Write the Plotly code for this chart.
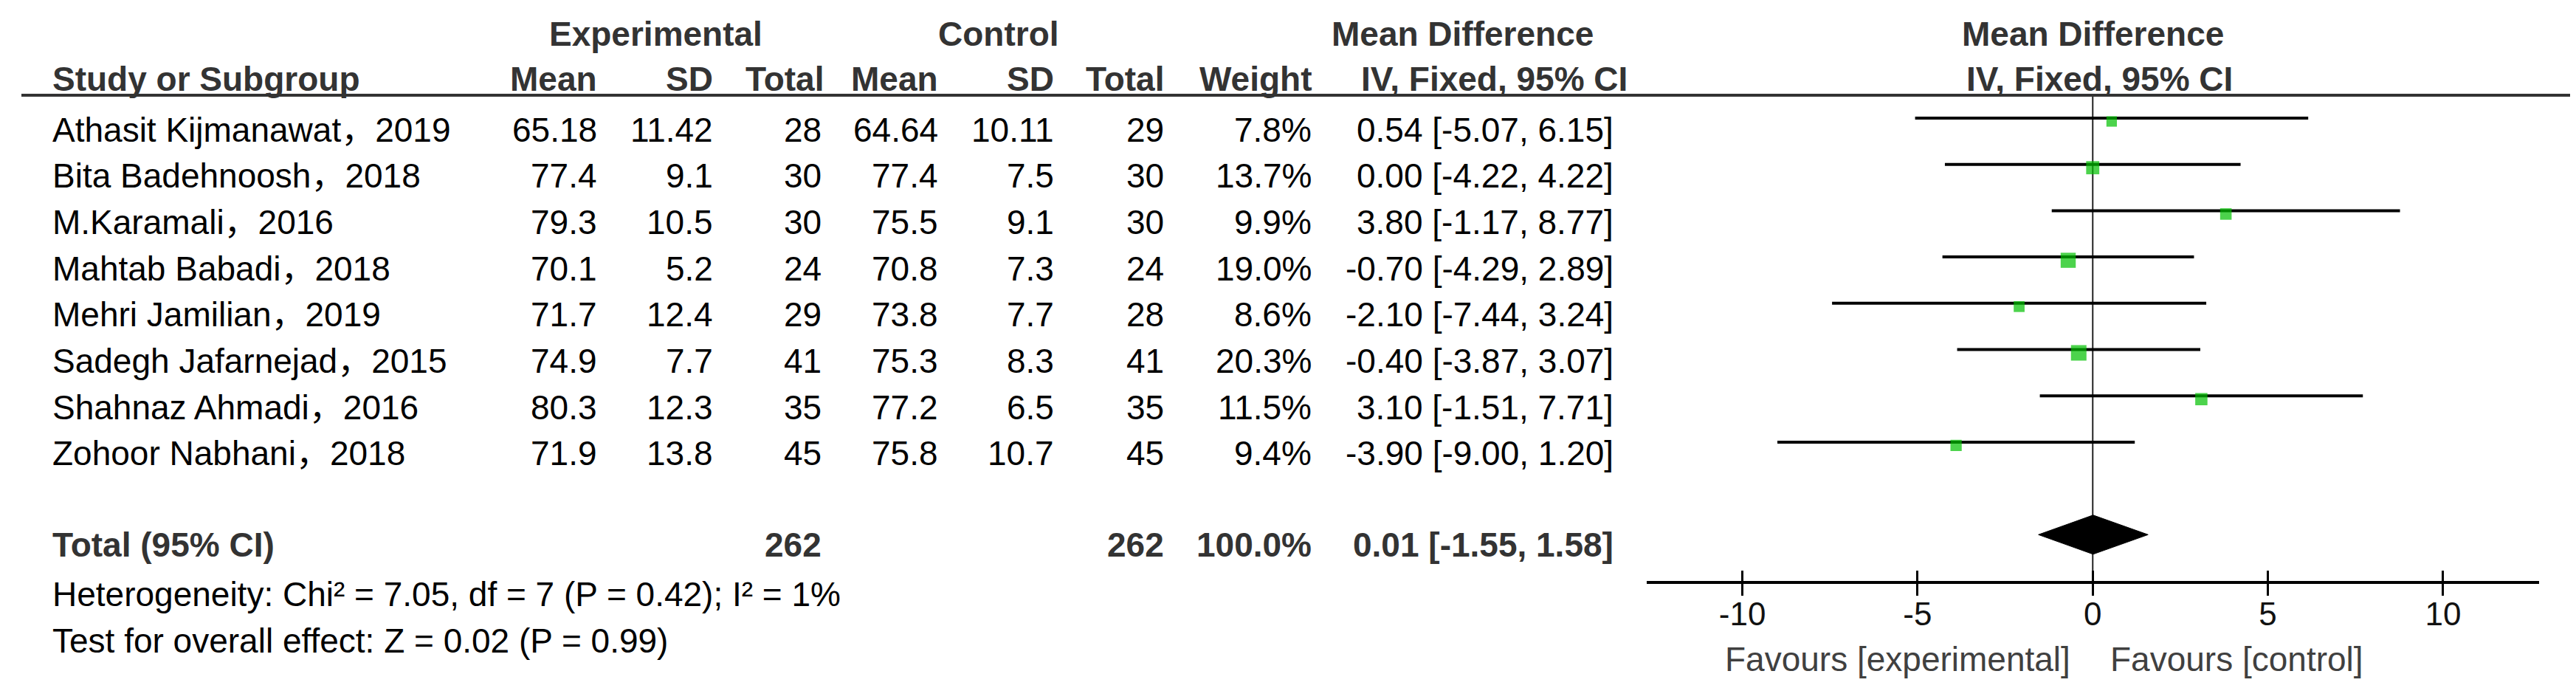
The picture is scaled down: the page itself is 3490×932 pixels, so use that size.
import plotly.graph_objects as go

# ---------------- data ----------------
studies = ["Athasit Kijmanawat，2019", "Bita Badehnoosh，2018", "M.Karamali，2016",
           "Mahtab Babadi，2018", "Mehri Jamilian，2019", "Sadegh Jafarnejad，2015",
           "Shahnaz Ahmadi，2016", "Zohoor Nabhani，2018"]
exp_mean = [65.18, 77.4, 79.3, 70.1, 71.7, 74.9, 80.3, 71.9]
exp_sd = [11.42, 9.1, 10.5, 5.2, 12.4, 7.7, 12.3, 13.8]
exp_n = [28, 30, 30, 24, 29, 41, 35, 45]
ctrl_mean = [64.64, 77.4, 75.5, 70.8, 73.8, 75.3, 77.2, 75.8]
ctrl_sd = [10.11, 7.5, 9.1, 7.3, 7.7, 8.3, 6.5, 10.7]
ctrl_n = [29, 30, 30, 24, 28, 41, 35, 45]
weight = [7.8, 13.7, 9.9, 19.0, 8.6, 20.3, 11.5, 9.4]
md = [0.54, 0.00, 3.80, -0.70, -2.10, -0.40, 3.10, -3.90]
ci_lo = [-5.07, -4.22, -1.17, -4.29, -7.44, -3.87, -1.51, -9.00]
ci_hi = [6.15, 4.22, 8.77, 2.89, 3.24, 3.07, 7.71, 1.20]

total_label = "Total (95% CI)"
total_exp_n = 262
total_ctrl_n = 262
total_weight = 100.0
total_md = 0.01
total_lo = -1.55
total_hi = 1.58
heterogeneity = "Heterogeneity: Chi² = 7.05, df = 7 (P = 0.42); I² = 1%"
overall = "Test for overall effect: Z = 0.02 (P = 0.99)"

tick_vals = [-10, -5, 0, 5, 10]
tick_text = ["-10", "-5", "0", "5", "10"]
favours_left = "Favours [experimental]"
favours_right = "Favours [control]"

# ---------------- layout constants (pixels) ----------------
W, H = 3490, 932
FONT = "Liberation Sans, Noto Sans CJK SC, Arial, Helvetica, sans-serif"
FS = 46
HEAD_COLOR = "#333333"
BODY_COLOR = "#000000"
GREEN = "#00c000"

LINE_Y0 = 152.0      # y of first study's CI line
ROW_H = 62.7
TEXT_DY = 15.5       # text centre sits below the CI line
TOTAL_TEXT_DY = 14
NOTE_DY = 18
MARKER_DY = 4.5
HEAD1_Y = 38
HEAD2_Y = 99
RULE_Y = 121
AXIS_Y = 781
FAV_Y = 885

STUDY_X = 61
COLS = dict(exp_mean=803, exp_sd=960, exp_n=1107, ctrl_mean=1265, ctrl_sd=1422,
            ctrl_n=1571, weight=1771, ci=2180)

X_PX_LEFT, X_PX_RIGHT = 2223, 3432
X_RANGE = [-12.73, 12.74]


def row_y(i):
    return LINE_Y0 + ROW_H * i


fig = go.Figure()
ann = []


def txt(x, y, s, anchor, bold=False, color=BODY_COLOR, size=FS, xref="x2"):
    ann.append(dict(x=x, y=y, xref=xref, yref="y", text=f"<b>{s}</b>" if bold else s,
                    showarrow=False, xanchor=anchor, yanchor="middle",
                    font=dict(family=FONT, size=size, color=color)))


# headers
txt(880, HEAD1_Y, "Experimental", "center", True, HEAD_COLOR)
txt(1345, HEAD1_Y, "Control", "center", True, HEAD_COLOR)
txt(1973, HEAD1_Y, "Mean Difference", "center", True, HEAD_COLOR)
txt(0, HEAD1_Y, "Mean Difference", "center", True, HEAD_COLOR, xref="x")
txt(STUDY_X, HEAD2_Y, "Study or Subgroup", "left", True, HEAD_COLOR)
txt(COLS["exp_mean"], HEAD2_Y, "Mean", "right", True, HEAD_COLOR)
txt(COLS["exp_sd"], HEAD2_Y, "SD", "right", True, HEAD_COLOR)
txt(COLS["exp_n"] + 3, HEAD2_Y, "Total", "right", True, HEAD_COLOR)
txt(COLS["ctrl_mean"], HEAD2_Y, "Mean", "right", True, HEAD_COLOR)
txt(COLS["ctrl_sd"], HEAD2_Y, "SD", "right", True, HEAD_COLOR)
txt(COLS["ctrl_n"], HEAD2_Y, "Total", "right", True, HEAD_COLOR)
txt(COLS["weight"], HEAD2_Y, "Weight", "right", True, HEAD_COLOR)
txt(2016, HEAD2_Y, "IV, Fixed, 95% CI", "center", True, HEAD_COLOR)
txt(0.2, HEAD2_Y, "IV, Fixed, 95% CI", "center", True, HEAD_COLOR, xref="x")

# study rows
for i, name in enumerate(studies):
    y = row_y(i) + TEXT_DY
    txt(STUDY_X, y, name, "left")
    txt(COLS["exp_mean"], y, f"{exp_mean[i]:g}", "right")
    txt(COLS["exp_sd"], y, f"{exp_sd[i]:g}", "right")
    txt(COLS["exp_n"], y, str(exp_n[i]), "right")
    txt(COLS["ctrl_mean"], y, f"{ctrl_mean[i]:g}", "right")
    txt(COLS["ctrl_sd"], y, f"{ctrl_sd[i]:g}", "right")
    txt(COLS["ctrl_n"], y, str(ctrl_n[i]), "right")
    txt(COLS["weight"], y, f"{weight[i]:.1f}%", "right")
    txt(COLS["ci"], y, f"{md[i]:.2f} [{ci_lo[i]:.2f}, {ci_hi[i]:.2f}]", "right")

# total row
TI = len(studies) + 1
ty = row_y(TI) + TOTAL_TEXT_DY
txt(STUDY_X, ty, total_label, "left", True, HEAD_COLOR)
txt(COLS["exp_n"], ty, str(total_exp_n), "right", True, HEAD_COLOR)
txt(COLS["ctrl_n"], ty, str(total_ctrl_n), "right", True, HEAD_COLOR)
txt(COLS["weight"], ty, f"{total_weight:.1f}%", "right", True, HEAD_COLOR)
txt(COLS["ci"], ty, f"{total_md:.2f} [{total_lo:.2f}, {total_hi:.2f}]", "right", True, HEAD_COLOR)
txt(STUDY_X, row_y(TI + 1) + NOTE_DY, heterogeneity, "left")
txt(STUDY_X, row_y(TI + 2) + NOTE_DY, overall, "left")

# favours labels (positioned on the forest axis)
txt(-0.6, FAV_Y, favours_left, "right", color="#404040", xref="x")
txt(0.45, FAV_Y, favours_right, "left", color="#404040", xref="x")

# header rule (table pixel axis)
fig.add_trace(go.Scatter(x=[21, 3475], y=[RULE_Y, RULE_Y], mode="lines",
                         line=dict(color="#333333", width=4), xaxis="x2", yaxis="y",
                         hoverinfo="skip", showlegend=False))

# zero line
fig.add_trace(go.Scatter(x=[0, 0], y=[RULE_Y, AXIS_Y], mode="lines",
                         line=dict(color="#222222", width=2), xaxis="x", yaxis="y",
                         hoverinfo="skip", showlegend=False))

# CI lines
lx, ly = [], []
for i in range(len(studies)):
    lx += [ci_lo[i], ci_hi[i], None]
    ly += [row_y(i), row_y(i), None]
fig.add_trace(go.Scatter(x=lx, y=ly, mode="lines", line=dict(color="#000000", width=4),
                         xaxis="x", yaxis="y", hoverinfo="skip", showlegend=False))

# study markers (size scales with weight)
sizes = [3 + 4 * w ** 0.5 for w in weight]
fig.add_trace(go.Scatter(x=md, y=[row_y(i) + MARKER_DY for i in range(len(studies))],
                         mode="markers",
                         marker=dict(symbol="square", size=sizes, color=GREEN, line=dict(width=0)),
                         xaxis="x", yaxis="y", showlegend=False))

# diamond for pooled estimate
dy = row_y(TI)
DH = 26.5
fig.add_trace(go.Scatter(x=[total_lo, total_md, total_hi, total_md, total_lo],
                         y=[dy, dy - DH, dy, dy + DH, dy], mode="lines", fill="toself",
                         fillcolor="#000000", line=dict(color="#000000", width=1),
                         xaxis="x", yaxis="y", hoverinfo="skip", showlegend=False))

# dummy trace for tick-overlay axis
fig.add_trace(go.Scatter(x=[0], y=[AXIS_Y], mode="markers", marker=dict(opacity=0),
                         xaxis="x3", yaxis="y", hoverinfo="skip", showlegend=False))

pos = 1 - AXIS_Y / H
dom = [X_PX_LEFT / W, X_PX_RIGHT / W]
fig.update_layout(
    width=W, height=H, autosize=False,
    margin=dict(l=0, r=0, t=0, b=0),
    paper_bgcolor="white", plot_bgcolor="rgba(0,0,0,0)",
    showlegend=False,
    font=dict(family=FONT, size=FS, color=BODY_COLOR),
    xaxis=dict(domain=dom, range=X_RANGE, anchor="free", position=pos,
               showline=True, linecolor="#000000", linewidth=3.5,
               ticks="outside", ticklen=16, tickwidth=2.5, tickcolor="#000000",
               tickvals=tick_vals, ticktext=tick_text, ticklabelstandoff=-13,
               tickfont=dict(family=FONT, size=44, color="#111111"),
               showgrid=False, zeroline=False, fixedrange=True),
    xaxis3=dict(overlaying="x", range=X_RANGE, anchor="free", position=pos,
                showline=False, ticks="inside", ticklen=16, tickwidth=2.5,
                tickcolor="#000000", tickvals=tick_vals, showticklabels=False,
                showgrid=False, zeroline=False, fixedrange=True),
    xaxis2=dict(domain=[0, 1], range=[0, W], anchor="y", visible=False, fixedrange=True),
    yaxis=dict(domain=[0, 1], range=[H, 0], visible=False, fixedrange=True),
    annotations=ann,
)

fig.write_html("out.html")
